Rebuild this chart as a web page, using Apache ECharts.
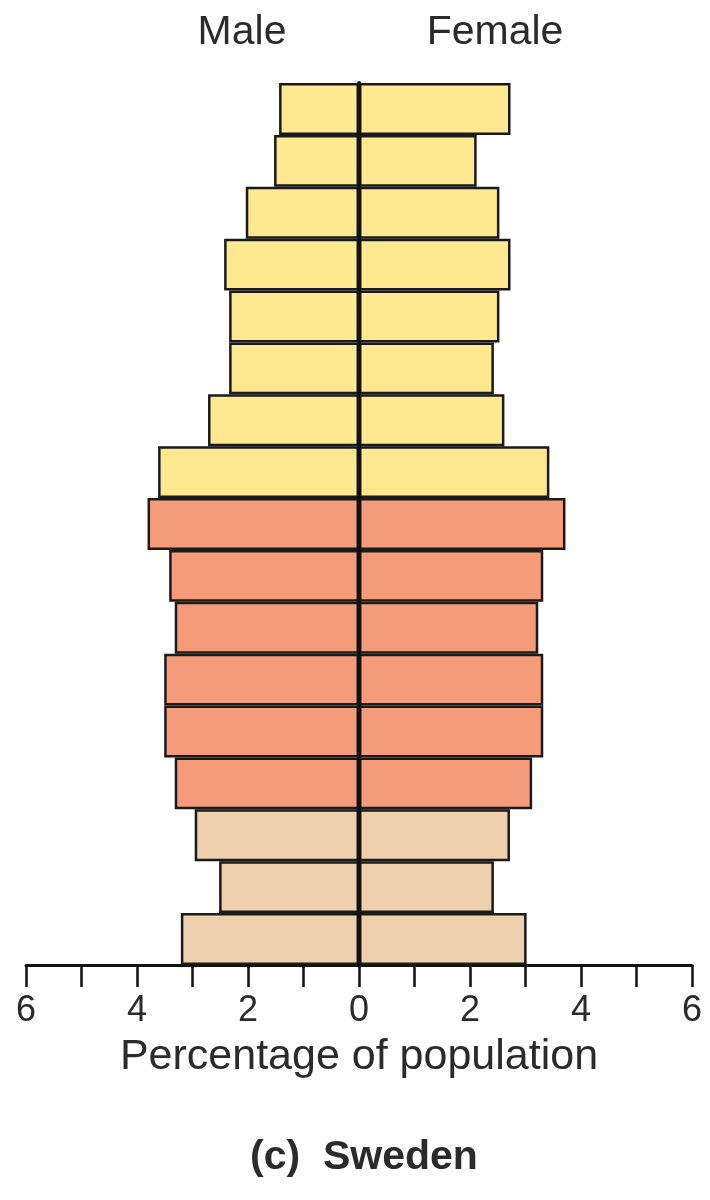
<!DOCTYPE html>
<html>
<head>
<meta charset="utf-8">
<script src="https://cdn.jsdelivr.net/npm/echarts@6/dist/echarts.min.js"></script>
<style>
  html, body { margin: 0; padding: 0; background: #ffffff; }
  #chart { width: 710px; height: 1200px; }
</style>
</head>
<body>
<div id="chart"></div>
<script>
// Age groups, bottom to top
const ageGroups = ['0–4','5–9','10–14','15–19','20–24','25–29','30–34','35–39','40–44','45–49','50–54','55–59','60–64','65–69','70–74','75–79','80+'];
// Percentage of population, bottom to top
const maleValues   = [3.21, 2.52, 2.96, 3.32, 3.51, 3.51, 3.32, 3.42, 3.81, 3.62, 2.72, 2.34, 2.34, 2.43, 2.04, 1.53, 1.44];
const femaleValues = [3.02, 2.43, 2.72, 3.12, 3.32, 3.32, 3.23, 3.32, 3.72, 3.43, 2.62, 2.43, 2.53, 2.73, 2.53, 2.12, 2.73];
// Life stage group of each age row, bottom to top
const stageGroups = ['pre','pre','pre','repro','repro','repro','repro','repro','repro','post','post','post','post','post','post','post','post'];
const xTicks = [-6, -4, -2, 0, 2, 4, 6];

const stageColors = { pre: '#EFD0AE', repro: '#F49C79', post: '#FEE991' };

function barData(values, sign) {
  return values.map((v, i) => ({
    value: sign * v,
    itemStyle: { color: stageColors[stageGroups[i]] }
  }));
}

const chart = echarts.init(document.getElementById('chart'), null, { renderer: 'canvas' });
const textColor = '#2b2b2b';
const fontFam = '"Liberation Sans", Arial, sans-serif';

chart.setOption({
  backgroundColor: '#ffffff',
  animation: false,
  title: [
    { text: 'Male', left: 237, top: 7, textAlign: 'center',
      textStyle: { fontFamily: fontFam, fontSize: 41, fontWeight: 'normal', color: textColor } },
    { text: 'Female', left: 490, top: 7, textAlign: 'center',
      textStyle: { fontFamily: fontFam, fontSize: 41, fontWeight: 'normal', color: textColor } },
    { text: '(c)  Sweden', left: 359, top: 1132, textAlign: 'center',
      textStyle: { fontFamily: fontFam, fontSize: 41, fontWeight: 'bold', color: textColor } }
  ],
  grid: { left: 26, right: 18, top: 83, bottom: 235, containLabel: false },
  xAxis: {
    type: 'value',
    min: -6, max: 6, interval: 1,
    name: 'Percentage of population',
    nameLocation: 'middle',
    nameGap: 71,
    nameTextStyle: { fontFamily: fontFam, fontSize: 43, color: textColor },
    axisLine: { show: true, onZero: false, lineStyle: { color: '#111', width: 3 } },
    axisTick: { show: true, length: 22, inside: false, lineStyle: { color: '#111', width: 2.5 } },
    axisLabel: {
      margin: 28,
      fontFamily: fontFam, fontSize: 36, color: textColor,
      formatter: v => (xTicks.indexOf(v) >= 0 ? String(Math.abs(v)) : '')
    },
    splitLine: { show: false }
  },
  yAxis: {
    type: 'category',
    data: ageGroups,
    z: 10,
    axisLine: { show: true, onZero: true, lineStyle: { color: '#111', width: 4 } },
    axisTick: { show: false },
    axisLabel: { show: false },
    splitLine: { show: false }
  },
  series: [
    {
      name: 'Male', type: 'bar',
      data: barData(maleValues, -1),
      barWidth: '100%', barGap: '-100%',
      itemStyle: { borderColor: '#1a1a1a', borderWidth: 2.5 }
    },
    {
      name: 'Female', type: 'bar',
      data: barData(femaleValues, 1),
      barWidth: '100%', barGap: '-100%',
      itemStyle: { borderColor: '#1a1a1a', borderWidth: 2.5 }
    }
  ]
});
</script>
</body>
</html>
